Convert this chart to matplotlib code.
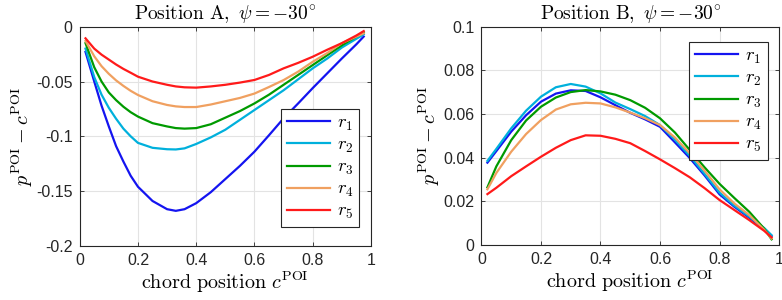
import matplotlib
matplotlib.use("Agg")
import matplotlib.pyplot as plt

plt.rcParams['mathtext.fontset'] = 'cm'
plt.rcParams['font.family'] = ['Liberation Sans', 'DejaVu Sans']

# ---- data ----
xA = [0.02, 0.05, 0.075, 0.10, 0.125, 0.15, 0.175, 0.20, 0.25, 0.30, 0.33, 0.36, 0.40, 0.45,
      0.50, 0.55, 0.60, 0.65, 0.70, 0.75, 0.80, 0.85, 0.90, 0.95, 0.975]
A_r1 = [-0.023, -0.050, -0.072, -0.091, -0.109, -0.123, -0.136, -0.146, -0.159, -0.1665, -0.168,
        -0.1665, -0.161, -0.151, -0.139, -0.127, -0.114, -0.099, -0.0836, -0.070, -0.056, -0.0425,
        -0.029, -0.016, -0.009]
A_r2 = [-0.020, -0.046, -0.062, -0.074, -0.084, -0.093, -0.100, -0.106, -0.1105, -0.1118, -0.112,
        -0.111, -0.107, -0.101, -0.094, -0.085, -0.076, -0.067, -0.058, -0.048, -0.038, -0.029,
        -0.019, -0.011, -0.007]
A_r3 = [-0.015, -0.037, -0.050, -0.060, -0.067, -0.073, -0.078, -0.082, -0.088, -0.091, -0.0925,
        -0.093, -0.0925, -0.089, -0.083, -0.077, -0.070, -0.062, -0.053, -0.044, -0.035, -0.026,
        -0.017, -0.009, -0.005]
A_r4 = [-0.013, -0.027, -0.036, -0.043, -0.049, -0.054, -0.0585, -0.0623, -0.068, -0.0714, -0.0727,
        -0.0733, -0.0733, -0.071, -0.068, -0.065, -0.061, -0.055, -0.0487, -0.041, -0.032, -0.024,
        -0.015, -0.009, -0.006]
A_r5 = [-0.0106, -0.020, -0.0255, -0.030, -0.0345, -0.0385, -0.042, -0.0456, -0.050, -0.053, -0.0545,
        -0.0553, -0.0556, -0.0545, -0.053, -0.051, -0.0486, -0.044, -0.038, -0.033, -0.0274, -0.021,
        -0.015, -0.008, -0.004]

xB = [0.02, 0.05, 0.10, 0.15, 0.20, 0.25, 0.30, 0.35, 0.40, 0.45, 0.50, 0.55, 0.60, 0.65, 0.70,
      0.75, 0.80, 0.85, 0.90, 0.95, 0.975]
B_r1 = [0.0377, 0.0430, 0.0519, 0.0594, 0.0656, 0.0693, 0.0708, 0.0705, 0.0676, 0.0640, 0.0605,
        0.0575, 0.0541, 0.0470, 0.0398, 0.0318, 0.0232, 0.0175, 0.0125, 0.0073, 0.0041]
B_r2 = [0.0385, 0.0440, 0.0534, 0.0615, 0.0679, 0.0722, 0.0737, 0.0725, 0.0694, 0.0652, 0.0622,
        0.0590, 0.0549, 0.0482, 0.0408, 0.0325, 0.0240, 0.0180, 0.0130, 0.0078, 0.0045]
B_r3 = [0.0264, 0.0360, 0.0480, 0.0570, 0.0633, 0.0675, 0.0700, 0.0709, 0.0703, 0.0688, 0.0663,
        0.0628, 0.0580, 0.0515, 0.0435, 0.0355, 0.0280, 0.0215, 0.0152, 0.0075, 0.0026]
B_r4 = [0.0255, 0.0330, 0.0427, 0.0508, 0.0572, 0.0620, 0.0644, 0.0651, 0.0648, 0.0630, 0.0606,
        0.0580, 0.0549, 0.0492, 0.0420, 0.0340, 0.0255, 0.0190, 0.0137, 0.0070, 0.0030]
B_r5 = [0.0233, 0.0262, 0.0315, 0.0360, 0.0404, 0.0445, 0.0480, 0.0502, 0.0500, 0.0486, 0.0466,
        0.0430, 0.0392, 0.0352, 0.0310, 0.0260, 0.0206, 0.0160, 0.0114, 0.0065, 0.0035]

labels = [r'$r_1$', r'$r_2$', r'$r_3$', r'$r_4$', r'$r_5$']
colors = ['#1414F0', '#00B0DC', '#009A00', '#F0A060', '#FF1A1A']

xticks = [0, 0.2, 0.4, 0.6, 0.8, 1]
xticklabels = ['0', '0.2', '0.4', '0.6', '0.8', '1']
yticksA = [-0.2, -0.15, -0.1, -0.05, 0]
yticklabelsA = ['-0.2', '-0.15', '-0.1', '-0.05', '0']
yticksB = [0, 0.02, 0.04, 0.06, 0.08, 0.1]
yticklabelsB = ['0', '0.02', '0.04', '0.06', '0.08', '0.1']

fig = plt.figure(figsize=(7.82, 3.0), dpi=100)
axA = fig.add_axes([0.1019, 0.1803, 0.3725, 0.7307])
axB = fig.add_axes([0.6157, 0.1833, 0.3805, 0.7283])

def style(ax, yt, ytl, ylim, title):
    ax.set_xlim(0, 1)
    ax.set_ylim(*ylim)
    ax.set_xticks(xticks)
    ax.set_xticklabels(xticklabels)
    ax.set_yticks(yt)
    ax.set_yticklabels(ytl)
    ax.grid(True, color='#E3E3E3', linewidth=0.8)
    ax.set_axisbelow(True)
    for s in ax.spines.values():
        s.set_color('#262626')
        s.set_linewidth(0.8)
    ax.tick_params(direction='in', length=3, width=0.6, colors='#262626',
                   labelsize=11.5, top=True, right=True, pad=5)
    ax.set_title(r'$\mathrm{' + title + r',}\ \psi=-30^{\circ}$', fontsize=14, pad=5)
    ax.set_xlabel(r'$\mathrm{chord\ position}\ c^{\mathrm{POI}}$', fontsize=14.5, labelpad=1)
    ax.set_ylabel(r'$p^{\mathrm{POI}}-c^{\mathrm{POI}}$', fontsize=14.5, labelpad=1)

seriesA = [A_r1, A_r2, A_r3, A_r4, A_r5]
seriesB = [B_r1, B_r2, B_r3, B_r4, B_r5]
for ys, c, lab in zip(seriesA, colors, labels):
    axA.plot(xA, ys, color=c, lw=1.6, label=lab)
for ys, c, lab in zip(seriesB, colors, labels):
    axB.plot(xB, ys, color=c, lw=1.6, label=lab)

style(axA, yticksA, yticklabelsA, (-0.2, 0), r'Position\ A')
style(axB, yticksB, yticklabelsB, (0, 0.1), r'Position\ B')

for ax, loc in ((axA, (0.691, 0.086)), (axB, (0.698, 0.389))):
    leg = ax.legend(loc='lower left', bbox_to_anchor=loc, fontsize=13.5, fancybox=False,
                    framealpha=1, edgecolor='#262626', handlelength=2.3,
                    borderpad=0.3, labelspacing=0.2, handletextpad=0.4, borderaxespad=0)
    leg.get_frame().set_linewidth(0.8)

fig.savefig('out.png', dpi=100)
